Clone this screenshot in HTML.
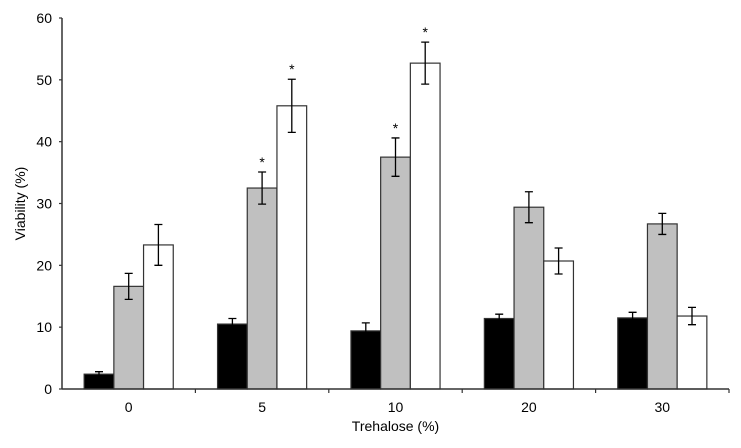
<!DOCTYPE html>
<html><head><meta charset="utf-8"><style>
body{margin:0;background:#fff}
svg text{font-family:"Liberation Sans",Arial,sans-serif;fill:#000}
</style></head><body>
<svg id="c" width="741" height="443" xmlns="http://www.w3.org/2000/svg"></svg>
<script>
const categories=["0","5","10","20","30"];
const blackVals=[2.4,10.5,9.4,11.4,11.5];
const blackErr=[0.4,0.9,1.3,0.7,0.9];
const grayVals=[16.6,32.5,37.5,29.4,26.7];
const grayErr=[2.1,2.6,3.1,2.5,1.7];
const whiteVals=[23.3,45.8,52.7,20.7,11.8];
const whiteErr=[3.3,4.3,3.4,2.1,1.4];
const grayStar=[false,true,true,false,false];
const whiteStar=[false,true,true,false,false];
const yTicks=[0,10,20,30,40,50,60];

const svg=document.getElementById('c');
const NS="http://www.w3.org/2000/svg";
const x0=62,x1=729,y0=389,yTop=18,ymax=60;
const gw=(x1-x0)/categories.length;
const y=v=>y0-(v/ymax)*(y0-yTop);
const xc=i=>x0+gw*(i+0.5);
const bw=29.7;
function mk(t,a,p){const e=document.createElementNS(NS,t);for(const k in a)e.setAttribute(k,a[k]);(p||svg).appendChild(e);return e;}

const series=[{v:blackVals,e:blackErr,fill:"#000",s:null,name:"black"},{v:grayVals,e:grayErr,fill:"#c0c0c0",s:grayStar,name:"gray"},{v:whiteVals,e:whiteErr,fill:"#fff",s:whiteStar,name:"white"}];
series.forEach((sr,si)=>{
  sr.v.forEach((v,i)=>{
    const bx=xc(i)-1.5*bw+si*bw;
    const r=mk('rect',{x:bx,y:y(v),width:bw,height:y0-y(v),fill:sr.fill,stroke:"#333","stroke-width":1.2});
    
    
    const cx=bx+bw/2,t=y(v+sr.e[i]),b=y(v-sr.e[i]);
    const g=mk('path',{d:`M${cx},${t}V${b}M${cx-4},${t}H${cx+4}M${cx-4},${b}H${cx+4}`,stroke:"#000","stroke-width":1.3,fill:"none"});
    
    
    if(sr.s&&sr.s[i]){
      const st=mk('text',{x:cx,y:t-5,"text-anchor":"middle","font-size":14});
      st.textContent="*";
      
      
    }
  });
});
// axes
const ya=mk('path',{d:`M${x0},${yTop}V${y0}`,stroke:"#333","stroke-width":1.5});

const xa=mk('path',{d:`M${x0},${y0}H${x1}`,stroke:"#333","stroke-width":1.5});

yTicks.forEach(t=>{
  mk('path',{d:`M${x0-3},${y(t)}H${x0}`,stroke:"#333","stroke-width":1.2});
  const l=mk('text',{x:x0-10,y:y(t)+5,"text-anchor":"end","font-size":14});
  l.textContent=t;
  
  
});
categories.forEach((c,i)=>{
  mk('path',{d:`M${x0+gw*(i+1)},${y0}V${y0+4}`,stroke:"#333","stroke-width":1.2});
  const l=mk('text',{x:xc(i),y:y0+23,"text-anchor":"middle","font-size":14});
  l.textContent=c;
  
  
});
const xt=mk('text',{x:(x0+x1)/2,y:431,"text-anchor":"middle","font-size":14});
xt.textContent="Trehalose (%)";

const yt=mk('text',{x:0,y:0,"text-anchor":"middle","font-size":14,transform:`translate(25,${(yTop+y0)/2}) rotate(-90)`});
yt.textContent="Viability (%)";

</script>
</body></html>
